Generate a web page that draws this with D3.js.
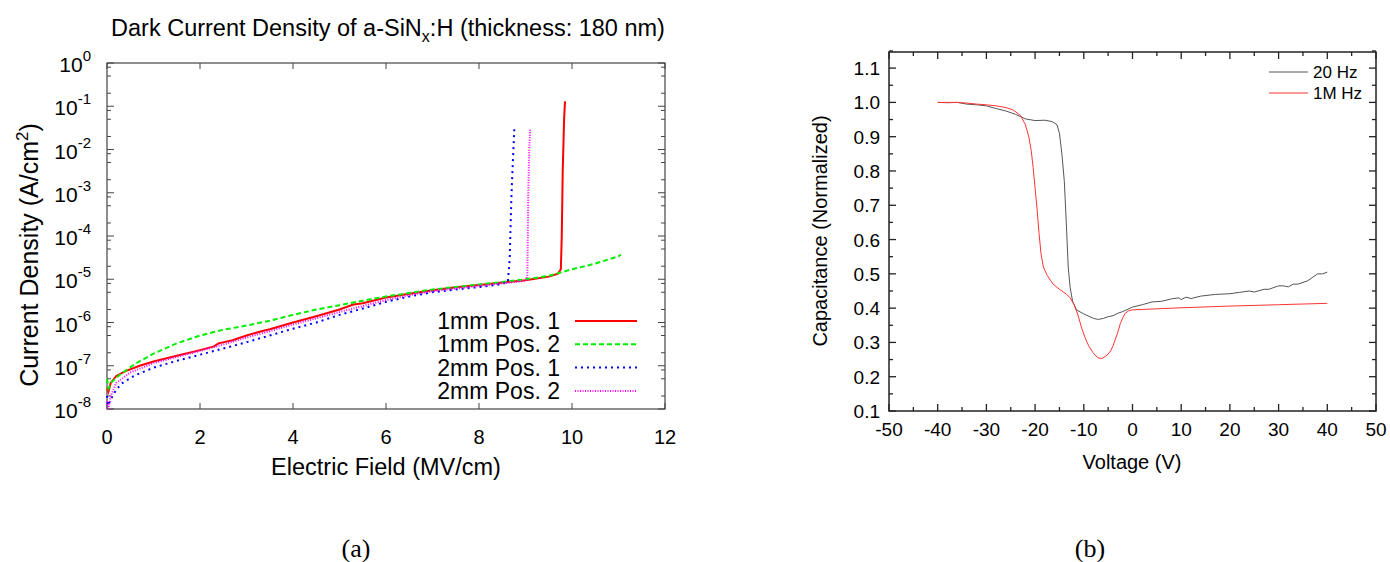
<!DOCTYPE html>
<html>
<head>
<meta charset="utf-8">
<script src="https://cdn.jsdelivr.net/npm/d3@7"></script>
<style>
  body { margin: 0; background: #fff; }
  svg { display: block; font-family: "Liberation Sans", Arial, sans-serif; }
</style>
</head>
<body>
<svg id="fig" width="1390" height="562"></svg>
<script>
// ---- (a) dark current density, [field MV/cm, J A/cm^2]
const pos1mm1 = [[0,3e-8],[0.03,2.5e-8],[0.08,4e-8],[0.2,5.8e-8],[0.4,7.5e-8],[0.7,1e-7],[1,1.25e-7],[1.5,1.7e-7],[2,2.3e-7],[2.3,2.8e-7],[2.4,3.3e-7],[2.7,3.9e-7],[3,5e-7],[3.3,6.2e-7],[3.5,7e-7],[4,1e-6],[4.5,1.4e-6],[5,2e-6],[5.3,2.6e-6],[5.5,2.8e-6],[6,3.8e-6],[6.5,4.6e-6],[7,5.6e-6],[7.5,6.5e-6],[8,7.4e-6],[8.5,8.4e-6],[9,9.5e-6],[9.5,1.15e-5],[9.7,1.35e-5],[9.76,1.7e-5],[9.78,1e-4],[9.8,3e-3],[9.83,0.05],[9.85,0.13]];
const pos1mm2 = [[0,5e-8],[0.03,3e-8],[0.1,4.2e-8],[0.3,6.5e-8],[0.6,1.1e-7],[1,1.9e-7],[1.5,3.3e-7],[2,5e-7],[2.5,6.8e-7],[3,8.5e-7],[3.5,1.1e-6],[4,1.5e-6],[4.5,2e-6],[5,2.5e-6],[5.5,3.2e-6],[6,4e-6],[6.5,4.8e-6],[7,5.8e-6],[7.5,6.6e-6],[8,7.6e-6],[8.5,8.6e-6],[9,1e-5],[9.5,1.2e-5],[10,1.7e-5],[10.5,2.3e-5],[11,3.4e-5],[11.05,3.7e-5]];
const pos2mm1 = [[0,2e-8],[0.02,1.2e-8],[0.06,1.5e-8],[0.15,2.3e-8],[0.3,3.8e-8],[0.6,6e-8],[1,9e-8],[1.5,1.3e-7],[2,1.8e-7],[2.5,2.5e-7],[3,3.5e-7],[3.5,5e-7],[4,7.2e-7],[4.5,1e-6],[5,1.5e-6],[5.5,2.1e-6],[6,3e-6],[6.5,4e-6],[7,5e-6],[7.5,5.8e-6],[8,6.6e-6],[8.4,7.5e-6],[8.62,8.5e-6],[8.66,3e-5],[8.7,1e-3],[8.74,0.01],[8.76,0.03]];
const pos2mm2 = [[0,1.5e-8],[0.03,1e-8],[0.08,2e-8],[0.2,4e-8],[0.5,7e-8],[1,1.15e-7],[1.5,1.6e-7],[2,2.2e-7],[2.5,3.1e-7],[3,4.5e-7],[3.5,6.3e-7],[4,9e-7],[4.5,1.25e-6],[5,1.75e-6],[5.5,2.4e-6],[6,3.3e-6],[6.5,4.3e-6],[7,5.3e-6],[7.5,6.1e-6],[8,7e-6],[8.5,8e-6],[9,9.2e-6],[9.04,1.2e-5],[9.06,1e-3],[9.08,0.01],[9.1,0.03]];
const fieldTicks = [0, 2, 4, 6, 8, 10, 12];
const jExponents = [0, -1, -2, -3, -4, -5, -6, -7, -8];
const seriesA = [
  {name: "1mm Pos. 1", data: pos1mm1, color: "#ff0000", dash: null,  w: 2},
  {name: "1mm Pos. 2", data: pos1mm2, color: "#00ee00", dash: "5,3", w: 2},
  {name: "2mm Pos. 1", data: pos2mm1, color: "#0000ff", dash: "2,4", w: 2},
  {name: "2mm Pos. 2", data: pos2mm2, color: "#ff00ff", dash: "1,1.5", w: 2}
];

// ---- (b) C-V, [voltage V, normalized C]
const cv20Hz = [[-40,1.0],[-38,0.999],[-36,1.0],[-34,0.995],[-32,0.993],[-30,0.99],[-28,0.982],[-26,0.975],[-24,0.965],[-22,0.952],[-20,0.947],[-18,0.948],[-16.5,0.944],[-15.5,0.935],[-15,0.91],[-14.5,0.85],[-14,0.77],[-13.6,0.65],[-13.2,0.52],[-12.8,0.46],[-12.3,0.42],[-11.5,0.395],[-10,0.383],[-8,0.37],[-7,0.367],[-6,0.37],[-5,0.375],[-4,0.378],[-3,0.385],[-2,0.39],[0,0.403],[2,0.41],[4,0.418],[6,0.42],[8,0.427],[9.5,0.43],[10,0.425],[11,0.432],[12,0.428],[14,0.435],[17,0.44],[20,0.442],[22,0.446],[24,0.45],[25,0.447],[27,0.455],[28,0.455],[30,0.465],[31,0.465],[32,0.462],[33,0.47],[34,0.47],[36,0.48],[38,0.5],[39,0.5],[40,0.505]];
const cv1MHz = [[-40,1.0],[-36,1.0],[-34,0.998],[-32,0.995],[-30,0.993],[-28,0.99],[-26,0.985],[-24.5,0.978],[-23,0.962],[-22,0.935],[-21.3,0.9],[-20.8,0.86],[-20.4,0.81],[-20,0.75],[-19.6,0.69],[-19.2,0.62],[-18.8,0.56],[-18.3,0.52],[-17.5,0.495],[-16.3,0.47],[-15,0.455],[-13.5,0.44],[-12.8,0.43],[-12,0.41],[-11.2,0.38],[-10.5,0.345],[-9.8,0.316],[-9,0.29],[-8.1,0.27],[-7.1,0.255],[-6.3,0.253],[-5.2,0.263],[-4.5,0.275],[-4,0.29],[-3.5,0.31],[-3,0.33],[-2.5,0.355],[-2,0.372],[-1.5,0.385],[-0.8,0.392],[0,0.395],[5,0.398],[10,0.401],[20,0.406],[30,0.41],[40,0.414]];
const voltTicks = [-50, -40, -30, -20, -10, 0, 10, 20, 30, 40, 50];
const capTicks = [0.1, 0.2, 0.3, 0.4, 0.5, 0.6, 0.7, 0.8, 0.9, 1.0, 1.1];
const seriesB = [
  {name: "20 Hz", data: cv20Hz, color: "#555555"},
  {name: "1M Hz", data: cv1MHz, color: "#ff3333"}
];

const svg = d3.select("#fig");
svg.append("rect").attr("width", 1390).attr("height", 562).attr("fill", "#fff");

// ================= panel (a) =================
const A = {left: 107, right: 665, top: 63, bottom: 409};
const xA = d3.scaleLinear().domain([0, 12]).range([A.left, A.right]);
const yA = d3.scaleLog().domain([1e-8, 1]).range([A.bottom, A.top]);
const gA = svg.append("g");

gA.append("rect")
  .attr("x", A.left).attr("y", A.top)
  .attr("width", A.right - A.left).attr("height", A.bottom - A.top)
  .attr("fill", "none").attr("stroke", "#444").attr("stroke-width", 1.2);

// inward ticks, mirrored
fieldTicks.forEach(v => {
  const x = xA(v);
  gA.append("line").attr("x1", x).attr("x2", x).attr("y1", A.bottom).attr("y2", A.bottom - 6).attr("stroke", "#444");
  gA.append("line").attr("x1", x).attr("x2", x).attr("y1", A.top).attr("y2", A.top + 6).attr("stroke", "#444");
  gA.append("text").attr("x", x).attr("y", 444).attr("text-anchor", "middle")
    .attr("font-size", 20).text(v);
});
jExponents.forEach(e => {
  const y = yA(Math.pow(10, e));
  gA.append("line").attr("x1", A.left).attr("x2", A.left + 7).attr("y1", y).attr("y2", y).attr("stroke", "#444");
  gA.append("line").attr("x1", A.right).attr("x2", A.right - 7).attr("y1", y).attr("y2", y).attr("stroke", "#444");
  if (e > -8) {
    [2, 5, 8].forEach(m => {
      const ym = yA(m * Math.pow(10, e - 1));
      gA.append("line").attr("x1", A.left).attr("x2", A.left + 4).attr("y1", ym).attr("y2", ym).attr("stroke", "#444");
      gA.append("line").attr("x1", A.right).attr("x2", A.right - 4).attr("y1", ym).attr("y2", ym).attr("stroke", "#444");
    });
  }
  const t = gA.append("text").attr("x", 91).attr("y", y + 9).attr("text-anchor", "end").attr("font-size", 21);
  t.append("tspan").text("10");
  t.append("tspan").attr("dy", -11).attr("font-size", 15).text(e);
});

const lineA = d3.line().x(d => xA(d[0])).y(d => yA(d[1]));
seriesA.forEach(s => {
  gA.append("path").datum(s.data).attr("d", lineA)
    .attr("fill", "none").attr("stroke", s.color).attr("stroke-width", s.w)
    .attr("stroke-dasharray", s.dash);
});

// legend
seriesA.forEach((s, i) => {
  const y = 321 + i * 23.3;
  gA.append("text").attr("x", 560).attr("y", y + 8).attr("text-anchor", "end")
    .attr("font-size", 23).text(s.name);
  gA.append("line").attr("x1", 575).attr("x2", 637).attr("y1", y).attr("y2", y)
    .attr("stroke", s.color).attr("stroke-width", s.w).attr("stroke-dasharray", s.dash);
});

// title + axis labels
const title = gA.append("text").attr("x", 388).attr("y", 36).attr("text-anchor", "middle").attr("font-size", 23.5);
title.append("tspan").text("Dark Current Density of a-SiN");
title.append("tspan").attr("dy", 6).attr("font-size", 16).text("x");
title.append("tspan").attr("dy", -6).text(":H (thickness: 180 nm)");

gA.append("text").attr("x", 386).attr("y", 475).attr("text-anchor", "middle").attr("font-size", 23.5)
  .text("Electric Field (MV/cm)");

const yl = gA.append("text").attr("transform", "translate(38,255) rotate(-90)")
  .attr("text-anchor", "middle").attr("font-size", 25);
yl.append("tspan").text("Current Density (A/cm");
yl.append("tspan").attr("dy", -10).attr("font-size", 17).text("2");
yl.append("tspan").attr("dy", 10).text(")");

// ================= panel (b) =================
const B = {left: 889, right: 1376, top: 52, bottom: 411};
const xB = d3.scaleLinear().domain([-50, 50]).range([B.left, B.right]);
const yB = d3.scaleLinear().domain([0.1, 1.147]).range([B.bottom, B.top]);
const gB = svg.append("g");

gB.append("rect")
  .attr("x", B.left).attr("y", B.top)
  .attr("width", B.right - B.left).attr("height", B.bottom - B.top)
  .attr("fill", "none").attr("stroke", "#222").attr("stroke-width", 1.5);

d3.range(-50, 51, 5).forEach(v => {
  const x = xB(v), len = v % 10 === 0 ? 7 : 4;
  gB.append("line").attr("x1", x).attr("x2", x).attr("y1", B.bottom).attr("y2", B.bottom - len).attr("stroke", "#222").attr("stroke-width", 1.3);
  gB.append("line").attr("x1", x).attr("x2", x).attr("y1", B.top).attr("y2", B.top + len).attr("stroke", "#222").attr("stroke-width", 1.3);
});
voltTicks.forEach(v => {
  gB.append("text").attr("x", xB(v)).attr("y", 436).attr("text-anchor", "middle")
    .attr("font-size", 19).text(v);
});
d3.range(0.1, 1.1501, 0.05).forEach(v => {
  const y = yB(v), major = Math.abs(v * 10 - Math.round(v * 10)) < 1e-6, len = major ? 7 : 4;
  gB.append("line").attr("x1", B.left).attr("x2", B.left + len).attr("y1", y).attr("y2", y).attr("stroke", "#222").attr("stroke-width", 1.3);
  gB.append("line").attr("x1", B.right).attr("x2", B.right - len).attr("y1", y).attr("y2", y).attr("stroke", "#222").attr("stroke-width", 1.3);
});
capTicks.forEach(v => {
  gB.append("text").attr("x", 880).attr("y", yB(v) + 7).attr("text-anchor", "end")
    .attr("font-size", 19).text(v.toFixed(1));
});

const lineB = d3.line().x(d => xB(d[0])).y(d => yB(d[1]));
seriesB.forEach(s => {
  gB.append("path").datum(s.data).attr("d", lineB)
    .attr("fill", "none").attr("stroke", s.color).attr("stroke-width", 1);
});

seriesB.forEach((s, i) => {
  const y = 72 + i * 21;
  gB.append("line").attr("x1", 1269).attr("x2", 1308).attr("y1", y).attr("y2", y)
    .attr("stroke", s.color).attr("stroke-width", 1);
  gB.append("text").attr("x", 1313).attr("y", y + 6).attr("font-size", 17).text(s.name);
});

gB.append("text").attr("x", 1132).attr("y", 469).attr("text-anchor", "middle").attr("font-size", 20)
  .text("Voltage (V)");
gB.append("text").attr("transform", "translate(827,231) rotate(-90)")
  .attr("text-anchor", "middle").attr("font-size", 20).text("Capacitance (Normalized)");

// ================= captions =================
svg.append("text").attr("x", 356).attr("y", 557).attr("text-anchor", "middle")
  .attr("font-family", "'Liberation Serif', 'Times New Roman', serif").attr("font-size", 26).text("(a)");
svg.append("text").attr("x", 1090).attr("y", 557).attr("text-anchor", "middle")
  .attr("font-family", "'Liberation Serif', 'Times New Roman', serif").attr("font-size", 26).text("(b)");
</script>
</body>
</html>
